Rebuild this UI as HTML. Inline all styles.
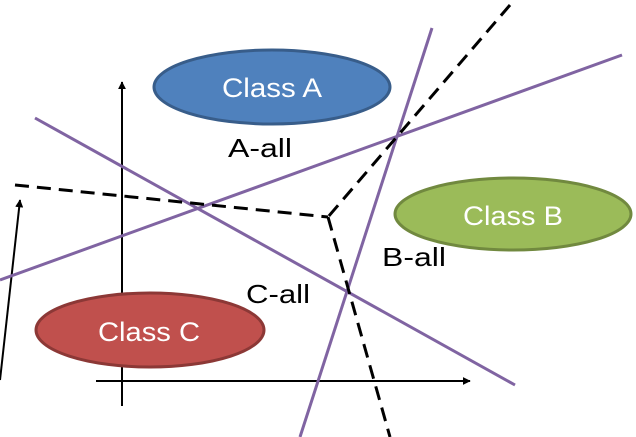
<!DOCTYPE html>
<html><head><meta charset="utf-8"><style>html,body{margin:0;padding:0;background:#fff}svg{display:block}</style></head>
<body>
<svg width="636" height="437" viewBox="0 0 636 437" xmlns="http://www.w3.org/2000/svg" font-family="Liberation Sans, sans-serif">
<defs>
<marker id="ah" viewBox="0 0 10 10" refX="9" refY="5" markerWidth="8" markerHeight="8" orient="auto-start-reverse" markerUnits="userSpaceOnUse"><path d="M0,0 L10,5 L0,10 z" fill="#000"/></marker>
</defs>
<line x1="122" y1="406" x2="122" y2="82" stroke="#000" stroke-width="2" marker-end="url(#ah)"/>
<line x1="96" y1="381" x2="470" y2="381" stroke="#000" stroke-width="2" marker-end="url(#ah)"/>
<line x1="0" y1="380" x2="20" y2="200" stroke="#000" stroke-width="2" marker-end="url(#ah)"/>
<ellipse cx="272" cy="87" rx="118" ry="37" fill="#4f81bd" stroke="#385d8a" stroke-width="3"/>
<text x="272" y="97" font-size="27" fill="#fff" text-anchor="middle" textLength="100" lengthAdjust="spacingAndGlyphs">Class A</text>
<ellipse cx="513" cy="214" rx="118" ry="36" fill="#9bbb59" stroke="#71893f" stroke-width="3"/>
<text x="513" y="225" font-size="27" fill="#fff" text-anchor="middle" textLength="100" lengthAdjust="spacingAndGlyphs">Class B</text>
<ellipse cx="150" cy="330" rx="114" ry="37" fill="#c0504d" stroke="#8c3836" stroke-width="3"/>
<text x="149" y="341" font-size="27" fill="#fff" text-anchor="middle" textLength="102" lengthAdjust="spacingAndGlyphs">Class C</text>
<g stroke="#8064a2" stroke-width="3">
<line x1="300" y1="437" x2="432" y2="28"/>
<line x1="0" y1="280" x2="622" y2="55"/>
<line x1="35" y1="118" x2="515" y2="385"/>
</g>
<g stroke="#000" stroke-width="3" stroke-dasharray="14,8" fill="none">
<polyline points="510,5 328,217"/>
<polyline points="15,185 328,217"/>
<line x1="328" y1="217" x2="390" y2="437"/>
</g>
<g font-size="26" fill="#000">
<text x="228" y="157" textLength="64" lengthAdjust="spacingAndGlyphs">A-all</text>
<text x="382" y="266" textLength="64" lengthAdjust="spacingAndGlyphs">B-all</text>
<text x="246" y="303" textLength="64" lengthAdjust="spacingAndGlyphs">C-all</text>
</g>
</svg>
</body></html>
